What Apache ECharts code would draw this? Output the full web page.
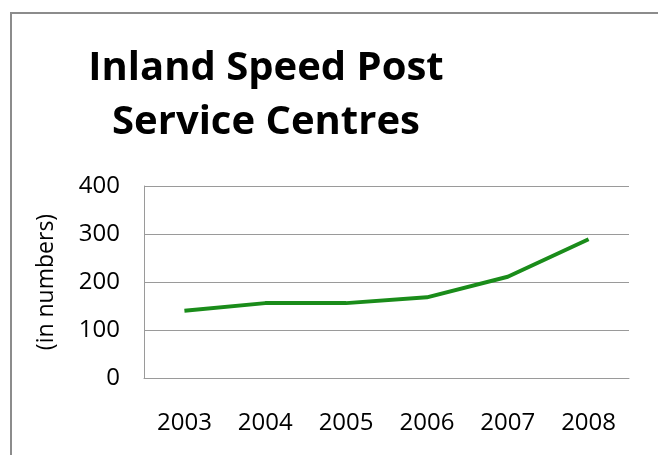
<!DOCTYPE html>
<html>
<head>
<meta charset="utf-8">
<script src="https://cdn.jsdelivr.net/npm/echarts@6/dist/echarts.min.js"></script>
<style>
html,body{margin:0;padding:0;background:#fff;}
#chart{width:658px;height:455px;}
</style>
</head>
<body>
<div id="chart"></div>
<script>
var titleText = "Inland Speed Post\nService Centres";
var yAxisName = "(in numbers)";
var categories = ["2003", "2004", "2005", "2006", "2007", "2008"];
var centres = [140, 156, 156, 168, 211, 289];
var yTicks = [0, 100, 200, 300, 400];

var chart = echarts.init(document.getElementById('chart'), null, {renderer: 'canvas'});
chart.setOption({
  animation: false,
  backgroundColor: '#ffffff',
  graphic: [{
    type: 'rect',
    silent: true,
    z: -10,
    shape: {x: 11, y: 13, width: 700, height: 500},
    style: {fill: 'none', stroke: '#8c8c8c', lineWidth: 2}
  }, {
    type: 'text',
    silent: true,
    x: 266,
    y: 42,
    style: {
      text: titleText,
      textAlign: 'center',
      textVerticalAlign: 'top',
      fontFamily: 'Open Sans',
      fontWeight: 'bold',
      fontSize: 40,
      lineHeight: 54,
      fill: '#000000'
    }
  }],
  grid: {left: 144, right: 29, top: 186, bottom: 77, containLabel: false},
  xAxis: {
    type: 'category',
    data: categories,
    boundaryGap: true,
    axisLine: {show: true, lineStyle: {color: '#9a9a9a', width: 1}},
    axisTick: {show: false},
    axisLabel: {fontFamily: 'Open Sans', fontSize: 24, color: '#000', margin: 33},
    splitLine: {show: false}
  },
  yAxis: {
    type: 'value',
    min: yTicks[0],
    max: yTicks[yTicks.length - 1],
    interval: 100,
    name: yAxisName,
    nameLocation: 'middle',
    nameGap: 86,
    nameRotate: 90,
    nameTextStyle: {fontFamily: 'Open Sans', fontSize: 23, color: '#000'},
    axisLine: {show: true, lineStyle: {color: '#9a9a9a', width: 1}},
    axisTick: {show: false},
    axisLabel: {fontFamily: 'Open Sans', fontSize: 24, color: '#000', margin: 24},
    splitLine: {show: true, lineStyle: {color: '#9a9a9a', width: 1}}
  },
  series: [{
    type: 'line',
    data: centres,
    symbol: 'none',
    lineStyle: {color: '#1a8c1a', width: 4},
    itemStyle: {color: '#1a8c1a'}
  }]
});
</script>
</body>
</html>
